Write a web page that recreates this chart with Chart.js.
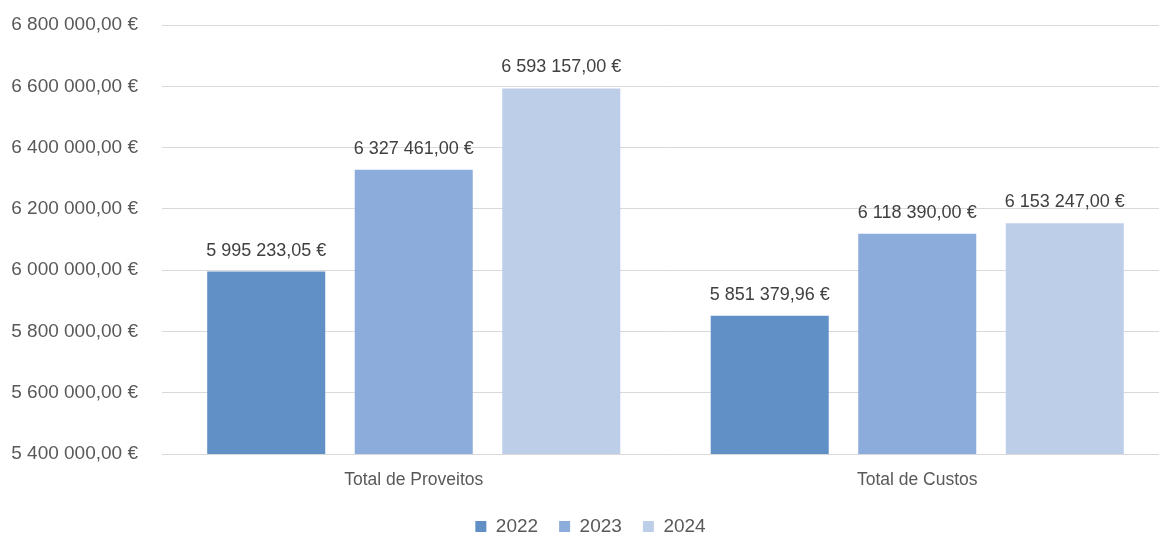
<!DOCTYPE html>
<html>
<head>
<meta charset="utf-8">
<script src="https://cdn.jsdelivr.net/npm/chart.js@4/dist/chart.umd.min.js"></script>
<style>
    html, body {
        margin: 0;
        padding: 0;
        background: #ffffff;
        overflow: hidden;
    }
    #wrap {
        width: 1195px;
        height: 536px;
    }
</style>
</head>
<body>
<div id="wrap">
    <canvas id="myChart" width="1195" height="536"></canvas>
</div>
<script>

// ===============================
// DATA
// ===============================

const categories = ['Total de Proveitos', 'Total de Custos'];

const years = ['2022', '2023', '2024'];

const values2022 = [5995233.05, 5851379.96];
const values2023 = [6327461.00, 6118390.00];
const values2024 = [6593157.00, 6153247.00];

const yMin = 5400000;
const yMax = 6800000;
const yStep = 200000;

const colors = ['#6190c6', '#8caddb', '#bdcfe8'];

const FONT = '"Liberation Sans", Arial, sans-serif';

// ===============================
// EURO FORMAT (6 800 000,00 €)
// ===============================

function euro(v){

    let parts = Number(v).toFixed(2).split('.');

    let intPart = parts[0].replace(/\B(?=(\d{3})+(?!\d))/g, ' ');

    return intPart + ',' + parts[1] + ' €';
}

// ===============================
// VALUE LABELS ABOVE BARS
// ===============================

const barLabels = {

    id: 'barLabels',

    afterDatasetsDraw(chart){

        const c = chart.ctx;

        c.save();

        c.font = '18px ' + FONT;
        c.fillStyle = '#404040';
        c.textAlign = 'center';
        c.textBaseline = 'bottom';

        chart.data.datasets.forEach((ds, i) => {

            chart.getDatasetMeta(i).data.forEach((bar, j) => {

                c.fillText(euro(ds.data[j]), bar.x, bar.y - 12);
            });
        });

        c.restore();
    }
};

// ===============================
// CHART
// ===============================

const ctx = document.getElementById('myChart').getContext('2d');

const myChart = new Chart(ctx, {

    type: 'bar',

    data: {

        labels: categories,

        datasets: [

            {
                label: years[0],
                data: values2022,
                backgroundColor: colors[0]
            },

            {
                label: years[1],
                data: values2023,
                backgroundColor: colors[1]
            },

            {
                label: years[2],
                data: values2024,
                backgroundColor: colors[2]
            }
        ]
    },

    options: {

        responsive: false,

        animation: false,

        categoryPercentage: 0.879,

        barPercentage: 0.8,

        layout: {
            padding: { left: 12, right: 26, top: 25, bottom: -10 }
        },

        plugins: {

            legend: {
                position: 'bottom',
                labels: {
                    boxWidth: 11,
                    boxHeight: 11,
                    padding: 21,
                    color: '#595959',
                    font: { family: FONT, size: 19 }
                }
            },

            tooltip: { enabled: false }
        },

        scales: {

            x: {
                grid: { display: false, drawTicks: false },
                border: { display: false },
                ticks: {
                    color: '#595959',
                    padding: 16,
                    font: { family: FONT, size: 17.5 }
                },
                afterFit: s => { s.height = 42; }
            },

            y: {
                min: yMin,
                max: yMax,
                grid: {
                    color: '#d9d9d9',
                    lineWidth: 1,
                    drawTicks: false
                },
                border: { display: false },
                ticks: {
                    stepSize: yStep,
                    padding: 24,
                    color: '#595959',
                    font: { family: FONT, size: 19 },
                    callback: v => euro(v)
                },
                afterFit: s => {
                    s.width = 150;
                    s.paddingTop = 0;
                    s.paddingBottom = 0;
                }
            }
        }
    },

    plugins: [barLabels]
});

</script>
</body>
</html>
